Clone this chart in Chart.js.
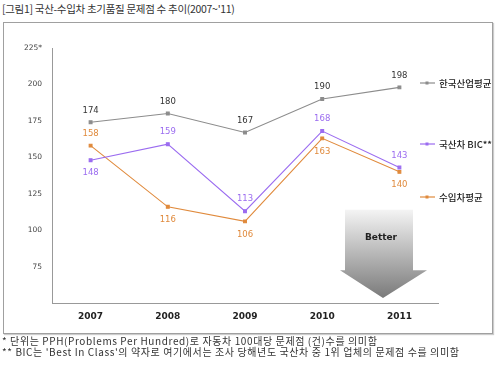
<!DOCTYPE html>
<html>
<head>
<meta charset="utf-8">
<script src="https://cdn.jsdelivr.net/npm/chart.js@4"></script>
<style>
  body { margin: 0; background: #fff; font-family: "Noto Sans CJK KR", sans-serif; }
  #wrap { position: relative; width: 500px; height: 369px; overflow: hidden; }
  #title { position: absolute; left: 2px; top: 1px; font-size: 10.5px; color: #333; letter-spacing: -0.3px; }
  #box { position: absolute; left: 3px; top: 22px; width: 488px; height: 310px; border: 1px solid #a0a0a0; box-shadow: 1px 1px 1px #ccc; }
  #chart { position: absolute; left: 0; top: 0; }
  .note { position: absolute; left: 2px; font-size: 10px; line-height: 11px; color: #333; letter-spacing: 0.6px; white-space: nowrap; }
</style>
</head>
<body>
<div id="wrap">
  <div id="title">[그림1] 국산-수입차 초기품질 문제점 수 추이(2007~'11)</div>
  <div id="box"></div>
  <canvas id="chart" width="500" height="369"></canvas>
  <div class="note" style="top:335px">* 단위는 PPH(Problems Per Hundred)로 자동차 100대당 문제점 (건)수를 의미함</div>
  <div class="note" style="top:346px">** BIC는 'Best In Class'의 약자로 여기에서는 조사 당해년도 국산차 중 1위 업체의 문제점 수를 의미함</div>
</div>
<script>
// 데이터
const years = ['2007', '2008', '2009', '2010', '2011'];
const koreaAvg = [174, 180, 167, 190, 198];
const domesticBIC = [148, 159, 113, 168, 143];
const importAvg = [158, 116, 106, 163, 140];
const seriesNames = ['한국산업평균', '국산차 BIC**', '수입차평균'];
const seriesColors = ['#8c8c8c', '#9b6cf0', '#e08a3c'];
// 라벨 위/아래
const labelSide = [
    ['up', 'up', 'up', 'up', 'up'],
    ['down', 'up', 'up', 'up', 'up'],
    ['up', 'down', 'down', 'down', 'down']
];
const legendY = [83, 144, 197];

const labelPlugin = {
    id: 'labels',
    beforeDatasetsDraw(chart) {
        // Better 화살표
        const { ctx } = chart;
        const y = chart.scales.y;
        const top = y.getPixelForValue(114), neck = y.getPixelForValue(72.5), tip = y.getPixelForValue(53.5);
        const cx = 383;
        const g = ctx.createLinearGradient(0, top, 0, tip);
        g.addColorStop(0, '#f4f4f4');
        g.addColorStop(1, '#7a7a7a');
        ctx.save();
        ctx.fillStyle = g;
        ctx.beginPath();
        ctx.moveTo(cx - 38, top);
        ctx.lineTo(cx + 30, top);
        ctx.lineTo(cx + 30, neck);
        ctx.lineTo(cx + 44, neck);
        ctx.lineTo(cx, tip);
        ctx.lineTo(cx - 43, neck);
        ctx.lineTo(cx - 38, neck);
        ctx.closePath();
        ctx.fill();
        ctx.fillStyle = '#222';
        ctx.font = 'bold 9px "DejaVu Sans", sans-serif';
        ctx.textAlign = 'center';
        ctx.textBaseline = 'middle';
        ctx.fillText('Better', cx - 2, 238);
        ctx.restore();
    },
    afterDatasetsDraw(chart) {
        const { ctx } = chart;
        ctx.save();
        ctx.font = '8.5px "DejaVu Sans", sans-serif';
        ctx.textAlign = 'center';
        ctx.textBaseline = 'middle';
        chart.data.datasets.forEach((ds, i) => {
            const meta = chart.getDatasetMeta(i);
            ctx.fillStyle = i === 0 ? '#333' : ds.borderColor;
            meta.data.forEach((pt, j) => {
                const dy = labelSide[i][j] === 'up' ? -12 : 13;
                ctx.fillText(ds.data[j], pt.x, pt.y + dy);
            });
            // 범례
            const ly = legendY[i];
            ctx.strokeStyle = ds.borderColor;
            ctx.lineWidth = 1.2;
            ctx.beginPath();
            ctx.moveTo(420, ly);
            ctx.lineTo(435, ly);
            ctx.stroke();
            ctx.fillStyle = ds.borderColor;
            ctx.fillRect(425.5, ly - 1.5, 3, 3);
            ctx.fillStyle = '#222';
            ctx.textAlign = 'left';
            ctx.font = '500 9.5px "Noto Sans CJK KR", sans-serif';
            ctx.fillText(seriesNames[i], 439, ly);
            ctx.textAlign = 'center';
            ctx.font = '8.5px "DejaVu Sans", sans-serif';
        });
        ctx.restore();
    }
};

const makeSet = (i, data) => ({
    label: seriesNames[i],
    data: data,
    borderColor: seriesColors[i],
    backgroundColor: seriesColors[i],
    borderWidth: 1.1,
    pointStyle: 'rect',
    pointRadius: 2,
    tension: 0
});

new Chart(document.getElementById('chart'), {
    type: 'line',
    data: {
        labels: years,
        datasets: [makeSet(0, koreaAvg), makeSet(1, domesticBIC), makeSet(2, importAvg)]
    },
    options: {
        responsive: false,
        animation: false,
        events: [],
        layout: { padding: { left: 0, top: 48, right: 62, bottom: 36 } },
        plugins: { legend: { display: false }, tooltip: { enabled: false } },
        scales: {
            x: {
                offset: true,
                grid: { display: false, drawTicks: false },
                border: { color: '#999' },
                ticks: { color: '#222', font: { family: 'DejaVu Sans', size: 9, weight: 'bold' }, padding: 8 },
                afterFit: s => { s.height = 30; }
            },
            y: {
                min: 50,
                max: 225,
                grid: { display: false, drawTicks: true, tickLength: 4 },
                border: { color: '#999' },
                ticks: {
                    stepSize: 25,
                    color: '#444',
                    font: { family: 'DejaVu Sans', size: 7.5 },
                    padding: 6,
                    callback: v => v === 50 ? '' : (v === 225 ? '225*' : v)
                },
                afterFit: s => { s.width = 52; }
            }
        }
    },
    plugins: [labelPlugin]
});
</script>
</body>
</html>
